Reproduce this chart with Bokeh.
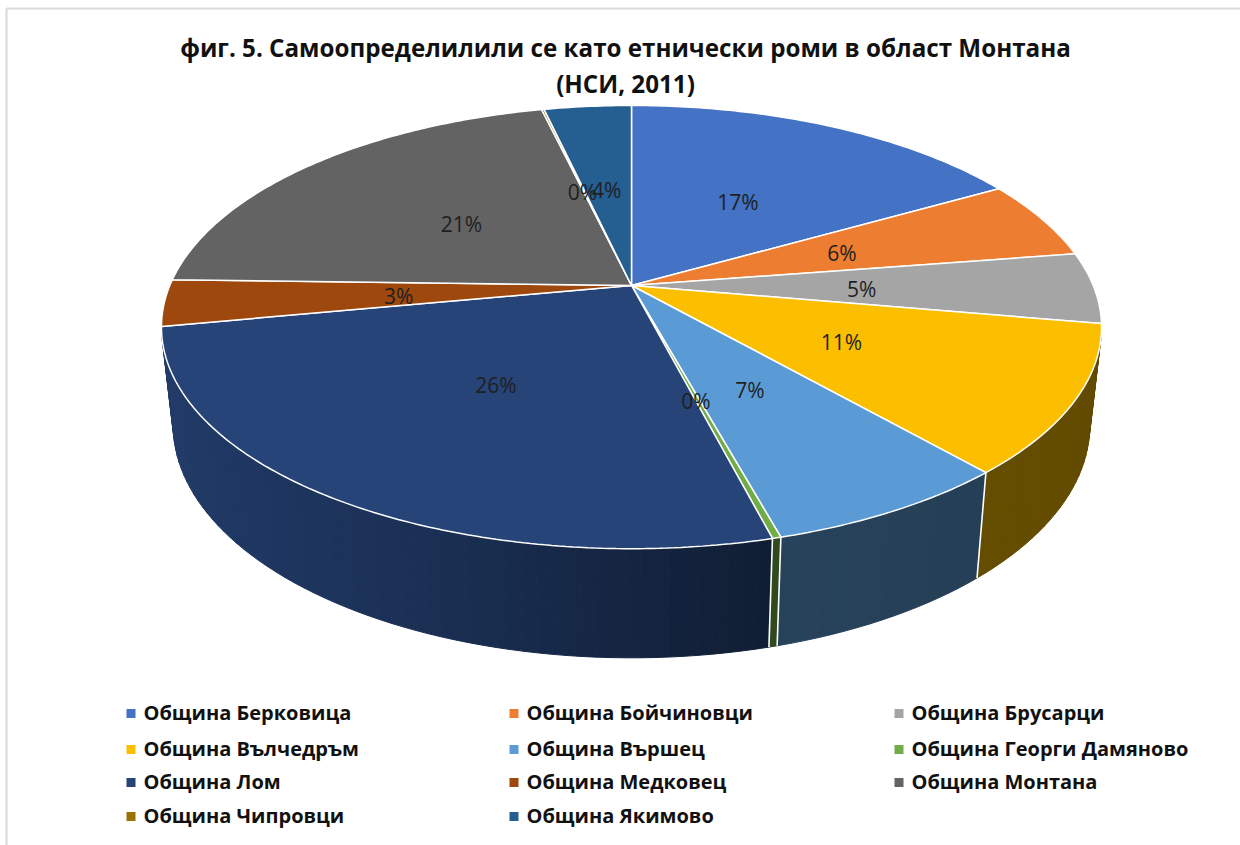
import numpy as np
from bokeh.plotting import figure
from bokeh.models import Range1d
from bokeh.core.properties import value
from bokeh.embed import file_html
from bokeh.resources import INLINE

title_lines = ["фиг. 5. Самоопределилили се като етнически роми в област Монтана", "(НСИ, 2011)"]
municipalities = ["Община Берковица", "Община Бойчиновци", "Община Брусарци",
                  "Община Вълчедръм", "Община Вършец", "Община Георги Дамяново",
                  "Община Лом", "Община Медковец", "Община Монтана",
                  "Община Чипровци", "Община Якимово"]
shares = [16.8, 5.8, 5.2, 10.8, 7.2, 0.25, 26.1, 3.4, 20.9, 0.1, 3.6]
colors = ["#4472C4", "#ED7D31", "#A5A5A5", "#FBBF00", "#5B9BD5", "#70AD47",
          "#264478", "#9E480E", "#636363", "#997300", "#255E91"]

# scene geometry (page pixels)
CX, CY = 631.0, 285.0
A, B, P = 461.7, 213.8, 0.1876
DEPTH, YSCALE, SHRINK = 96.0, 1.05, 0.975
W, H = 1240, 845

def project(theta, r=1.0):
    X, Y = r * np.sin(theta), r * np.cos(theta)
    den = 1 + P * Y
    return CX + A * X / den, CY - B * Y / den

def lower(theta):
    x, y = project(theta)
    return CX + (x - CX) * SHRINK, CY + (y - CY) * YSCALE + DEPTH

def shade(hex_color, x):
    f = np.interp(x, [170, 480, 770, 1100], [0.86, 0.66, 0.43, 0.39])
    rgb = [int(hex_color[i:i + 2], 16) for i in (1, 3, 5)]
    return "#%02x%02x%02x" % tuple(int(round(c * f)) for c in rgb)

shares_arr = np.array(shares, dtype=float)
edges = np.concatenate([[0], np.cumsum(shares_arr)]) / shares_arr.sum() * 2 * np.pi
tan_a, tan_b = np.arccos(-P), 2 * np.pi - np.arccos(-P)

p = figure(width=W, height=H, output_backend="svg", toolbar_location=None,
           x_range=Range1d(0, W), y_range=Range1d(H, 0),
           min_border=0, outline_line_color=None)
p.axis.visible = False
p.grid.visible = False

# chart frame
p.line([6, 6], [8, H], line_color="#d9d9d9", line_width=2)
p.line([6, W], [8, 8], line_color="#d9d9d9", line_width=2)

# side wall strips
for i, c in enumerate(colors):
    a0, a1 = max(edges[i], tan_a), min(edges[i + 1], tan_b)
    if a1 <= a0:
        continue
    n = max(1, int(np.degrees(a1 - a0) / 1.5))
    t = np.linspace(a0, a1, n + 1)
    xs, ys, cs = [], [], []
    for t0, t1 in zip(t[:-1], t[1:]):
        x0, y0 = project(t0); x1, y1 = project(t1)
        x2, y2 = lower(t1); x3, y3 = lower(t0)
        xs.append([x0, x1, x2, x3]); ys.append([y0, y1, y2, y3])
        cs.append(shade(c, (x0 + x1) / 2))
    p.patches(xs, ys, fill_color=cs, line_color=cs, line_width=1)

# white separators on the wall
for e in edges:
    if tan_a + 0.05 < e < tan_b - 0.05:
        x0, y0 = project(e); x1, y1 = lower(e)
        p.line([x0, x1], [y0, y1], line_color="white", line_width=1.6)

# top face
for i, c in enumerate(colors):
    t = np.linspace(edges[i], edges[i + 1], max(3, int(shares[i] * 5)))
    x, y = project(t)
    p.patch(np.r_[CX, x], np.r_[CY, y], fill_color=c, line_color="white", line_width=1.5)

# percent labels
mids = (edges[:-1] + edges[1:]) / 2
lx, ly = project(mids, 0.5)
p.text(lx - 1, ly + 2, text=[f"{round(s):d}%" for s in shares], text_font=value("Open Sans"),
       text_font_size="21px", text_color="#1f1f1f", text_align="center", text_baseline="middle")

# title
p.text([625, 625], [47, 83], text=title_lines, text_font=value("Open Sans"),
       text_font_style="bold", text_font_size="24.2px", text_color="#111111",
       text_align="center", text_baseline="middle")

# legend
col_x = [143, 526, 911]
row_y = [712, 748, 781, 815]
for i, (name, c) in enumerate(zip(municipalities, colors)):
    r, k = i // 3, i % 3
    p.rect([col_x[k] - 12.5], [row_y[r] + 1], width=9, height=9, fill_color=c, line_color=None)
    p.text([col_x[k]], [row_y[r]], text=[name], text_font=value("Open Sans"),
           text_font_style="bold", text_font_size="20px", text_color="#111111",
           text_align="left", text_baseline="middle")

open("out.html", "w").write(file_html(p, INLINE))
